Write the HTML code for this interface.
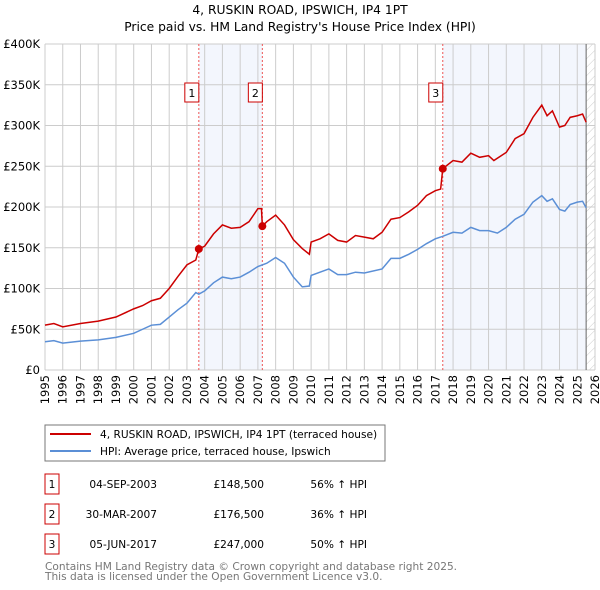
<!DOCTYPE html>
<html><head><meta charset="utf-8"><style>
body{margin:0;background:#fff;font-family:"DejaVu Sans","Liberation Sans",sans-serif;}
#wrap{position:relative;width:600px;height:590px;overflow:hidden;}
</style></head><body>
<div id="wrap">
<svg id="chart" width="600" height="590" xmlns="http://www.w3.org/2000/svg">
<defs><pattern id="hatch" width="6" height="6" patternUnits="userSpaceOnUse" patternTransform="rotate(45)"><line x1="0" y1="0" x2="0" y2="6" stroke="#ccc" stroke-width="1"/></pattern></defs>
<text x="300" y="14" text-anchor="middle" font-size="12.3">4, RUSKIN ROAD, IPSWICH, IP4 1PT</text>
<text x="300" y="31" text-anchor="middle" font-size="12.3">Price paid vs. HM Land Registry's House Price Index (HPI)</text>
<g id="plot"></g>
<rect x="45" y="425" width="340" height="36" fill="#fff" stroke="#777"/>
<line x1="50" y1="434" x2="91" y2="434" stroke="#cc0000" stroke-width="2"/>
<text x="100" y="438" font-size="10.6">4, RUSKIN ROAD, IPSWICH, IP4 1PT (terraced house)</text>
<line x1="50" y1="451" x2="91" y2="451" stroke="#5b8fd6" stroke-width="2"/>
<text x="100" y="455" font-size="10.6">HPI: Average price, terraced house, Ipswich</text>
<g id="table" font-size="10.6"></g>
<text x="45" y="570" font-size="10.6" fill="#777">Contains HM Land Registry data © Crown copyright and database right 2025.</text>
<text x="45" y="580" font-size="10.6" fill="#777">This data is licensed under the Open Government Licence v3.0.</text>
</svg></div>
<script>
const hpiYears=[1995,1995.5,1996,1997,1998,1999,2000,2000.5,2001,2001.5,2002,2002.5,2003,2003.5,2003.67,2004,2004.5,2005,2005.5,2006,2006.5,2007,2007.5,2008,2008.5,2009,2009.5,2009.9,2010,2011,2011.5,2012,2012.5,2013,2014,2014.5,2015,2015.5,2016,2016.5,2017,2017.42,2018,2018.5,2019,2019.5,2020,2020.5,2021,2021.5,2022,2022.5,2023,2023.3,2023.6,2024,2024.3,2024.6,2025,2025.3,2025.5];
const hpiValues=[34.7,36,33,35.5,37,40,45,50,55,56,65,74,82,95,93,97,107,114,112,114,120,127,131,138,131,114,102,103,116,124,117,117,120,119,124,137,137,142,148,155,161,164,169,168,175,171,171,168,175,185,191,206,214,207,210,197,195,203,206,207,199];
const priceYears=[1995,1995.5,1996,1997,1998,1999,2000,2000.5,2001,2001.5,2002,2002.5,2003,2003.5,2003.67,2004,2004.5,2005,2005.5,2006,2006.5,2007,2007.2,2007.25,2007.5,2008,2008.5,2009,2009.5,2009.9,2010,2010.5,2011,2011.5,2012,2012.5,2013,2013.5,2014,2014.5,2015,2015.5,2016,2016.5,2017,2017.3,2017.42,2018,2018.5,2019,2019.5,2020,2020.3,2021,2021.5,2022,2022.5,2023,2023.3,2023.6,2024,2024.3,2024.6,2025,2025.3,2025.5];
const priceValues=[55,57,53,57,60,65,75,79,85,88,100,115,129,135,148.5,152,167,178,174,175,182,198,198,176.5,182,190,178,160,149,142,157,161,167,159,157,165,163,161,169,185,187,194,202,214,220,222,247,257,255,266,261,263,257,267,284,290,310,325,312,318,298,300,310,312,314,304];
const saleLabels=["1","2","3"];
const saleYears=[2003.67,2007.25,2017.42];
const saleValues=[148.5,176.5,247];
const saleDates=["04-SEP-2003","30-MAR-2007","05-JUN-2017"];
const salePrices=["£148,500","£176,500","£247,000"];
const saleHpi=["56% ↑ HPI","36% ↑ HPI","50% ↑ HPI"];
const yTicks=[0,50,100,150,200,250,300,350,400];
const yTickLabels=["£0","£50K","£100K","£150K","£200K","£250K","£300K","£350K","£400K"];
const xTicks=[1995,1996,1997,1998,1999,2000,2001,2002,2003,2004,2005,2006,2007,2008,2009,2010,2011,2012,2013,2014,2015,2016,2017,2018,2019,2020,2021,2022,2023,2024,2025,2026];

const X0=45,X1=595,Y0=370,Y1=44;
const xs=y=>X0+(y-1995)/(2026-1995)*(X1-X0);
const ys=v=>Y0-v/400*(Y0-Y1);
const NS="http://www.w3.org/2000/svg";
const plot=document.getElementById('plot');
function mk(tag,attrs,parent){const e=document.createElementNS(NS,tag);for(const k in attrs)e.setAttribute(k,attrs[k]);(parent||plot).appendChild(e);return e;}

let r=mk('rect',{x:xs(saleYears[0]),y:Y1,width:xs(saleYears[1])-xs(saleYears[0]),height:Y0-Y1,fill:'#f3f6fd'});


r=mk('rect',{x:xs(saleYears[2]),y:Y1,width:xs(2025.5)-xs(saleYears[2]),height:Y0-Y1,fill:'#f3f6fd'});


r=mk('rect',{x:xs(2025.5),y:Y1,width:X1-xs(2025.5),height:Y0-Y1,fill:'url(#hatch)'});



yTicks.forEach((t,i)=>{
 const l=mk('line',{x1:X0,x2:X1,y1:ys(t),y2:ys(t),stroke:'#ccc'});
 
 
 const tx=mk('text',{x:40,y:ys(t)+4,'text-anchor':'end','font-size':11.5});
 tx.textContent=yTickLabels[i];
 
 
});
xTicks.forEach(t=>{
 const l=mk('line',{x1:xs(t),x2:xs(t),y1:Y1,y2:Y0,stroke:'#ccc'});
 
 
 const tx=mk('text',{x:0,y:0,'text-anchor':'end','font-size':11.5,transform:`translate(${xs(t)+4},375) rotate(-90)`});
 tx.textContent=t;
 
 
});
let el=mk('line',{x1:xs(2025.5),x2:xs(2025.5),y1:Y1,y2:Y0,stroke:'#666'});



saleYears.forEach((y,i)=>{
 const l=mk('line',{x1:xs(y),x2:xs(y),y1:Y1,y2:Y0,stroke:'#ee5555','stroke-dasharray':'2,2'});
 
 
 const b=mk('rect',{x:xs(y)-14,y:83,width:14,height:19,fill:'#fff',stroke:'#cc0000'});
 
 
 const t=mk('text',{x:xs(y)-7,y:97,'text-anchor':'middle','font-size':11});
 t.textContent=saleLabels[i];
 
 
});

let p=mk('polyline',{points:hpiYears.map((y,i)=>xs(y)+','+ys(hpiValues[i])).join(' '),fill:'none',stroke:'#5b8fd6','stroke-width':1.5});


p=mk('polyline',{points:priceYears.map((y,i)=>xs(y)+','+ys(priceValues[i])).join(' '),fill:'none',stroke:'#cc0000','stroke-width':1.5});


saleYears.forEach((y,i)=>{
 const c=mk('circle',{cx:xs(y),cy:ys(saleValues[i]),r:4,fill:'#cc0000'});
 
 
});

const tb=document.getElementById('table');
saleLabels.forEach((s,i)=>{
 const y=483+i*30;
 const b=mk('rect',{x:45,y:y-9,width:14,height:20,fill:'#fff',stroke:'#cc0000'},tb);
 
 
 const vals=[[52,s,'middle'],[157,saleDates[i],'end'],[264,salePrices[i],'end'],[367,saleHpi[i],'end']];
 vals.forEach(v=>{
  const t=mk('text',{x:v[0],y:y+5,'text-anchor':v[2]},tb);
  t.textContent=v[1];
  
  
 });
});
</script>
</body></html>
